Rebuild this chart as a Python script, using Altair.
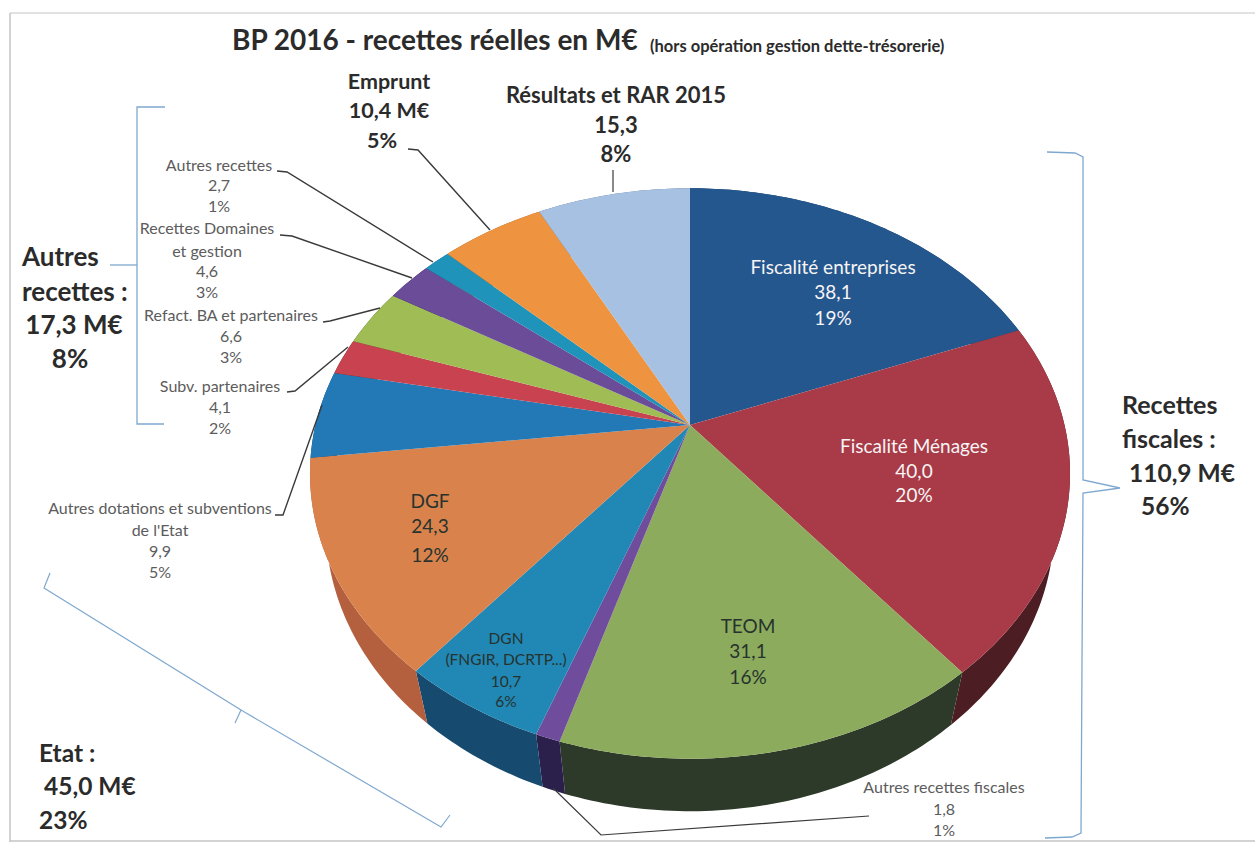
import math
import altair as alt
import pandas as pd

# Budget lines, clockwise from twelve o'clock (M€)
slices = ["Fiscalité entreprises", "Fiscalité Ménages", "TEOM", "Autres recettes fiscales",
          "DGN", "DGF", "Autres dotations", "Subv. partenaires", "Refact. BA",
          "Recettes Domaines", "Autres recettes", "Emprunt", "Résultats et RAR 2015"]
amounts = [38.1, 40.0, 31.1, 1.8, 10.7, 24.3, 9.9, 4.1, 6.6, 4.6, 2.7, 10.4, 15.3]
top_colours = ["#25578F", "#A93A47", "#8CAB5C", "#6F4C9C", "#2187B4", "#D9824C", "#2279B6",
               "#C8434F", "#A0BD55", "#6A4C98", "#1F93B9", "#EE9340", "#A6C1E1"]
wall_colours = ["#173E5E", "#4C1D22", "#2E3A29", "#2B1F4C", "#164A6E", "#B4603F", "#164A6E",
                "#5A2025", "#3C4A22", "#2B1F4C", "#164A6E", "#A35A22", "#5F7590"]

# Perspective of the tilted disc
APEX_X, APEX_Y = 690.0, 425.0
RX, RY, TILT = 374.5, 277.0, 0.17
DEPTH, FLOOR_SHRINK = 52.5, 0.958


def rim(theta):
    u, v = math.sin(theta), math.cos(theta)
    d = 1 + TILT * v
    return APEX_X + RX * u / d, APEX_Y - RY * v / d


def floor(theta):
    x, y = rim(theta)
    return APEX_X + FLOOR_SHRINK * (x - APEX_X), y + DEPTH


total = sum(amounts)
top_rows, wall_rows = [], []
start = 0.0
for name, amount in zip(slices, amounts):
    stop = start + amount
    a0, a1 = 2 * math.pi * start / total, 2 * math.pi * stop / total
    steps = max(4, int(amount * 2))
    arc = [a0 + (a1 - a0) * k / steps for k in range(steps + 1)]
    outline = [(APEX_X, APEX_Y)] + [rim(t) for t in arc] + [(APEX_X, APEX_Y)]
    for i, (x, y) in enumerate(outline):
        top_rows.append({"slice": name, "i": i, "x": x, "y": y})
    side = [rim(t) for t in arc] + [floor(t) for t in reversed(arc)]
    side.append(side[0])
    for i, (x, y) in enumerate(side):
        wall_rows.append({"slice": name, "i": i, "x": x, "y": y})
    start = stop

x_scale = alt.Scale(domain=[0, 1255], range=[0, 1255])
y_scale = alt.Scale(domain=[0, 842], range=[0, 842])
X = alt.X("x:Q", scale=x_scale, axis=None)
Y = alt.Y("y:Q", scale=y_scale, axis=None)

walls = alt.Chart(pd.DataFrame(wall_rows)).mark_line(filled=True, strokeWidth=0.4).encode(
    x=X, y=Y, order="i:Q",
    color=alt.Color("slice:N", legend=None, scale=alt.Scale(domain=slices, range=wall_colours)),
)
tops = alt.Chart(pd.DataFrame(top_rows)).mark_line(filled=True, strokeWidth=0.4).encode(
    x=X, y=Y, order="i:Q",
    color=alt.Color("slice:N", legend=None, scale=alt.Scale(domain=slices, range=top_colours)),
)

# Thin polylines: page edge, leader lines, braces
EDGE, DARK, BRACE = "#c4c4c4", "#3a3a3a", "#7FA8CF"
polylines = [
    (EDGE, 1.0, [(10, 13), (1255, 13)]),
    (EDGE, 1.5, [(10, 13), (10, 842)]),
    (EDGE, 1.5, [(10, 841), (1255, 841)]),
    (DARK, 1.4, [(408, 149), (418, 150), (490, 230)]),
    (DARK, 1.2, [(613, 170), (613, 192)]),
    (DARK, 1.4, [(277, 171), (287, 172), (433, 262)]),
    (DARK, 1.4, [(280, 235), (292, 236), (412, 278)]),
    (DARK, 1.4, [(323, 322), (330, 321), (380, 308)]),
    (DARK, 1.4, [(287, 392), (295, 391), (348, 347)]),
    (DARK, 1.4, [(275, 515), (283, 515), (322, 405)]),
    (DARK, 1.2, [(553, 788), (601, 835), (869, 816)]),
    (BRACE, 1.3, [(165, 107), (137, 107), (137, 424), (164, 424)]),
    (BRACE, 1.3, [(110, 265), (137, 265)]),
    (BRACE, 1.2, [(50, 573), (44, 588), (241, 710), (235, 723), (241, 710), (441, 827), (450, 815)]),
    (BRACE, 1.3, [(1047, 152), (1075, 153), (1083, 157), (1083, 480), (1120, 488), (1083, 493),
                  (1081, 833), (1072, 837), (1045, 838)]),
]
line_rows = []
for n, (colour, weight, pts) in enumerate(polylines):
    for i, (x, y) in enumerate(pts):
        line_rows.append({"id": n, "i": i, "x": x, "y": y, "colour": colour, "w": weight})
lines = alt.Chart(pd.DataFrame(line_rows)).mark_line().encode(
    x=X, y=Y, order="i:Q", detail="id:N",
    color=alt.Color("colour:N", scale=None),
    strokeWidth=alt.StrokeWidth("w:Q", scale=None),
)

# Text blocks: (x, list of (y, text)), size, weight, colour, align
INK, GREY, WHITE, DEEP = "#2b2b2b", "#5c5c5c", "#f6f4f4", "#26332f"
blocks = [
    (232, [(42, "BP 2016 - recettes réelles en M€")], 28, "bold", INK, "left"),
    (650, [(47, "(hors opération gestion dette-trésorerie)")], 16.5, "bold", INK, "left"),
    (389, [(83, "Emprunt"), (112, "10,4 M€")], 21.5, "bold", INK, "center"),
    (382, [(142, "5%")], 21.5, "bold", INK, "center"),
    (616, [(96, "Résultats et RAR 2015"), (126, "15,3"), (155, "8%")], 22, "bold", INK, "center"),
    (219, [(166, "Autres recettes"), (186, "2,7"), (207, "1%")], 16, "normal", GREY, "center"),
    (207, [(229, "Recettes Domaines"), (252, "et gestion"), (272, "4,6"), (293, "3%")], 16, "normal", GREY, "center"),
    (231, [(316, "Refact. BA et partenaires"), (337, "6,6"), (358, "3%")], 16, "normal", GREY, "center"),
    (220, [(387, "Subv. partenaires"), (408, "4,1"), (429, "2%")], 16, "normal", GREY, "center"),
    (160, [(509, "Autres dotations et subventions"), (531, "de l'Etat"), (552, "9,9"), (573, "5%")], 16, "normal", GREY, "center"),
    (22, [(258, "Autres"), (293, "recettes :")], 26, "bold", INK, "left"),
    (74, [(326, "17,3 M€")], 26, "bold", INK, "center"),
    (70, [(360, "8%")], 26, "bold", INK, "center"),
    (39, [(755, "Etat :")], 24.5, "bold", INK, "left"),
    (44, [(788, "45,0 M€")], 24.5, "bold", INK, "left"),
    (39, [(822, "23%")], 24.5, "bold", INK, "left"),
    (1122, [(406, "Recettes"), (440, "fiscales :")], 25, "bold", INK, "left"),
    (1129, [(475, "110,9 M€")], 24.5, "bold", INK, "left"),
    (1141, [(508, "56%")], 24.5, "bold", INK, "left"),
    (833, [(268, "Fiscalité entreprises"), (293, "38,1"), (319, "19%")], 19, "normal", WHITE, "center"),
    (914, [(447, "Fiscalité Ménages"), (472, "40,0"), (496, "20%")], 19, "normal", WHITE, "center"),
    (430, [(502, "DGF"), (527, "24,3"), (556, "12%")], 19, "normal", DEEP, "center"),
    (748, [(627, "TEOM"), (652, "31,1"), (678, "16%")], 19, "normal", DEEP, "center"),
    (506, [(639, "DGN"), (660, "(FNGIR, DCRTP...)"), (682, "10,7"), (702, "6%")], 15.5, "normal", DEEP, "center"),
    (944, [(788, "Autres recettes fiscales"), (810, "1,8"), (831, "1%")], 16, "normal", GREY, "center"),
]

text_layers = []
for x0, rows, size, weight, colour, align in blocks:
    frame = pd.DataFrame([{"x": x0, "y": y, "label": t} for y, t in rows])
    text_layers.append(
        alt.Chart(frame).mark_text(font="Lato", fontSize=size, fontWeight=weight, color=colour,
                                   align=align, baseline="middle").encode(x=X, y=Y, text="label:N")
    )

chart = alt.layer(walls, tops, lines, *text_layers).resolve_scale(color="independent").properties(
    width=1255, height=842, padding=0, autosize="none", background="white"
).configure_view(stroke=None)

chart.save("out.html", embed_options={"renderer": "svg", "actions": False})
